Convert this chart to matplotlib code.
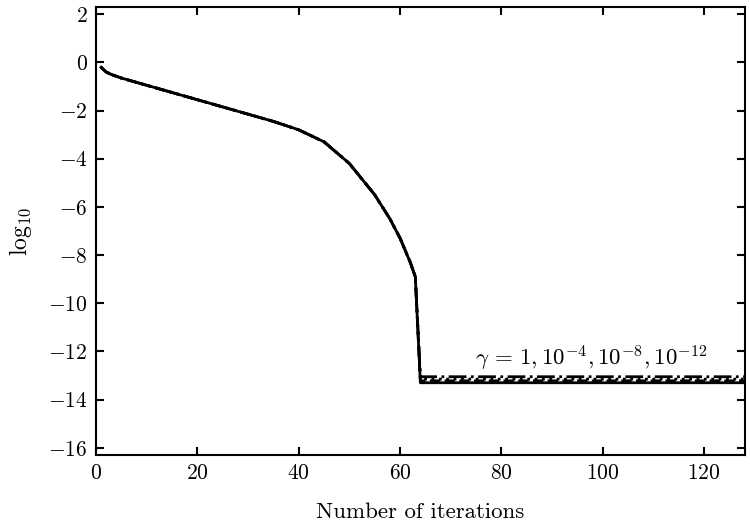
import numpy as np
import matplotlib.pyplot as plt

plt.rcParams['font.family'] = 'serif'
plt.rcParams['font.serif'] = ['cmr10']
plt.rcParams['mathtext.fontset'] = 'cm'
plt.rcParams['axes.formatter.use_mathtext'] = True
plt.rcParams['axes.unicode_minus'] = True

# shared part of the convergence history (same for every gamma)
iters = [1, 2, 3, 5, 10, 15, 20, 25, 30, 35, 40, 45, 50, 55, 58, 60, 62, 63, 64]
resid = [-0.2, -0.4, -0.5, -0.65, -0.95, -1.25, -1.55, -1.85, -2.15, -2.45,
         -2.8, -3.3, -4.2, -5.5, -6.5, -7.3, -8.3, -8.9, -13.3]

# stagnation level after the drop, one per gamma
tail_iters = [64, 65, 128]
tail_levels = {
    '1': -13.3,
    '1e-4': -13.22,
    '1e-8': -13.15,
    '1e-12': -13.05,
}
styles = ['-', '--', ':', '-.']

fig = plt.figure(figsize=(7.5, 5.25), dpi=100)
ax = fig.add_axes([0.128, 0.1333, 0.865, 0.8534])

for (g, lev), ls in zip(tail_levels.items(), styles):
    x = iters + tail_iters[1:]
    y = resid[:-1] + [lev, lev, lev]
    ax.plot(x, y, color='black', ls=ls, lw=2)

ax.text(74.8, -12.3, r'$\gamma \,=\, 1, 10^{-4}, 10^{-8}, 10^{-12}$', fontsize=16.5, va='center')

ax.set_xlim(0, 128)
ax.set_ylim(-16.3, 2.3)
ax.set_xticks(np.arange(0, 121, 20))
ax.set_yticks(np.arange(-16, 3, 2))
ax.tick_params(direction='in', top=True, right=True, labelsize=15.5, length=6, width=1.5, pad=6)
for s in ax.spines.values():
    s.set_linewidth(1.5)
ax.set_xlabel('Number of iterations', fontsize=16.5, labelpad=14)
ax.set_ylabel(r'$\log_{10}$', fontsize=17, labelpad=10)

fig.savefig('out.png', dpi=100)
